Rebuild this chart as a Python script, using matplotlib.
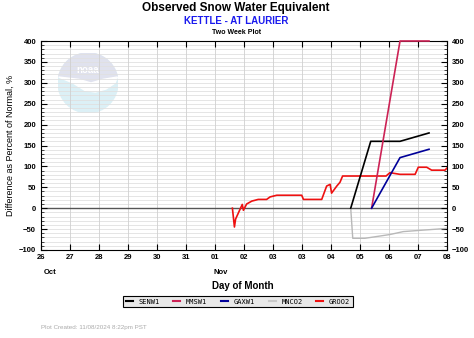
import numpy as np
import matplotlib.pyplot as plt
from matplotlib.patches import Wedge, Circle, Polygon

plt.rcParams['font.family'] = ['Liberation Sans', 'DejaVu Sans']

# x = Tage seit 26. Okt 00:00
tick_labels = ['26', '27', '28', '29', '30', '31', '01', '02', '03', '03', '04', '05', '06', '07', '08']

senw1_x = [10.68, 11.37, 12.38, 13.38]
senw1_y = [0, 160, 160, 180]

mmsw1_x = [11.40, 12.38, 13.38]
mmsw1_y = [0, 400, 400]

gaxw1_x = [11.40, 12.38, 13.38]
gaxw1_y = [0, 121, 141]

mnco2_x = [10.68, 10.75, 11.17, 12.03, 12.49, 13.07, 13.87, 14.0]
mnco2_y = [0, -72, -72, -63, -56, -53, -49, -48]

groo2_x = [6.60, 6.67, 6.71, 6.94, 6.98, 7.09, 7.27, 7.49, 7.78, 7.90, 8.13, 8.99, 9.05,
           9.68, 9.85, 9.97, 10.02, 10.20, 10.31, 10.40, 11.90, 12.03, 12.38, 12.90,
           13.01, 13.30, 13.47, 13.93, 14.0]
groo2_y = [0, -45, -26, 9, -5, 10, 17, 21, 21, 27, 31, 31, 21,
           21, 53, 57, 36, 53, 62, 77, 77, 85, 81, 81,
           98, 98, 91, 91, 96]

fig = plt.figure(figsize=(4.74, 3.38), dpi=100)

# NOAA Logo (verblasst, hinter dem Gitter)
lg = fig.add_axes([58/474, 1-113/338, 60/474, 60/338])
lg.set_xlim(-1, 1)
lg.set_ylim(-1, 1)
lg.set_aspect('equal')
lg.axis('off')
lg.add_patch(Circle((0, 0), 1, color='#dcf0f6', zorder=1))
lg.add_patch(Wedge((0, 0), 1, 12, 168, color='#e0e2ee', zorder=2))
lg.add_patch(Polygon([(-0.98, 0.2), (-0.5, 0.0), (-0.1, -0.25), (0.25, -0.3),
                      (0.6, -0.2), (0.9, 0.0), (0.98, 0.2), (0.5, 0.12),
                      (0.1, 0.0), (-0.3, 0.12)], color='white', zorder=3))
lg.text(0, 0.42, 'noaa', color='white', fontsize=7, fontweight='bold',
        ha='center', va='center', zorder=4)

ax = fig.add_axes([41/474, 1-250/338, 406/474, 209/338])
ax.patch.set_alpha(0)

# Gitter
for y in range(-100, 401, 10):
    ax.axhline(y, color='#e0e0e0', lw=0.6, zorder=0)
for x in range(1, 14):
    ax.axvline(x, color='#d0d0d0', lw=0.6, zorder=0)
ax.axhline(0, color='#555555', lw=1.0, zorder=1)

ax.plot(groo2_x, groo2_y, color='#ee1111', lw=1.2, zorder=3)
ax.plot(mnco2_x, mnco2_y, color='#b8b8b8', lw=1.0, zorder=3)
ax.plot(senw1_x, senw1_y, color='black', lw=1.2, zorder=3)
ax.plot(mmsw1_x, mmsw1_y, color='#cc2255', lw=1.2, zorder=3, clip_on=False)
ax.plot(gaxw1_x, gaxw1_y, color='#000099', lw=1.2, zorder=3)

ax.set_xlim(0, 14)
ax.set_ylim(-100, 400)
ax.set_xticks(range(15))
ax.set_xticklabels(tick_labels, fontsize=5.5, fontweight='bold')
ax.set_yticks(range(-100, 401, 50))
ax.set_yticks(range(-100, 401, 10), minor=True)
ax.tick_params(axis='both', which='major', direction='in', length=4, width=0.8,
               labelsize=5.5, top=True, right=True, labelright=True)
ax.tick_params(axis='y', which='minor', direction='in', length=2, width=0.5, right=True)
ax.tick_params(axis='x', pad=3)
for lab in ax.get_yticklabels():
    lab.set_fontweight('bold')

ax.set_ylabel('Difference as Percent of Normal, %', fontsize=6.5, labelpad=3)

fig.text(44/474, 1-273/338, 'Oct', fontsize=5.5, fontweight='bold', va='center')
fig.text(213/474, 1-273/338, 'Nov', fontsize=5.5, fontweight='bold', va='center')
fig.text(243/474, 1-286/338, 'Day of Month', fontsize=7, fontweight='bold', ha='center', va='center')

fig.text(236/474, 1-8/338, 'Observed Snow Water Equivalent', fontsize=8.5,
         fontweight='bold', ha='center', va='center')
fig.text(236/474, 1-21/338, 'KETTLE - AT LAURIER', fontsize=7,
         fontweight='bold', color='#1a1aee', ha='center', va='center')
fig.text(237/474, 1-32/338, 'Two Week Plot', fontsize=5, fontweight='bold',
         ha='center', va='center')
fig.text(41/474, 1-327/338, 'Plot Created: 11/08/2024 8:22pm PST', fontsize=4.5,
         color='#aaaaaa', va='center')

# Legende
handles = [plt.Line2D([], [], color=c, lw=1.5) for c in
           ['black', '#cc2255', '#000099', '#c8c8c8', '#ee1111']]
leg = fig.legend(handles, ['SENW1', 'MMSW1', 'GAXW1', 'MNCO2', 'GROO2'],
                 loc='center', bbox_to_anchor=(238/474, 1-301.5/338), ncol=5,
                 prop={'family': 'DejaVu Sans Mono', 'size': 5}, handlelength=1.0,
                 columnspacing=2.0, handletextpad=0.8, borderpad=0.4,
                 fancybox=False, framealpha=1)
leg.get_frame().set_facecolor('#e8e8e8')
leg.get_frame().set_edgecolor('black')
leg.get_frame().set_linewidth(0.8)

fig.savefig('out.png', dpi=100)
